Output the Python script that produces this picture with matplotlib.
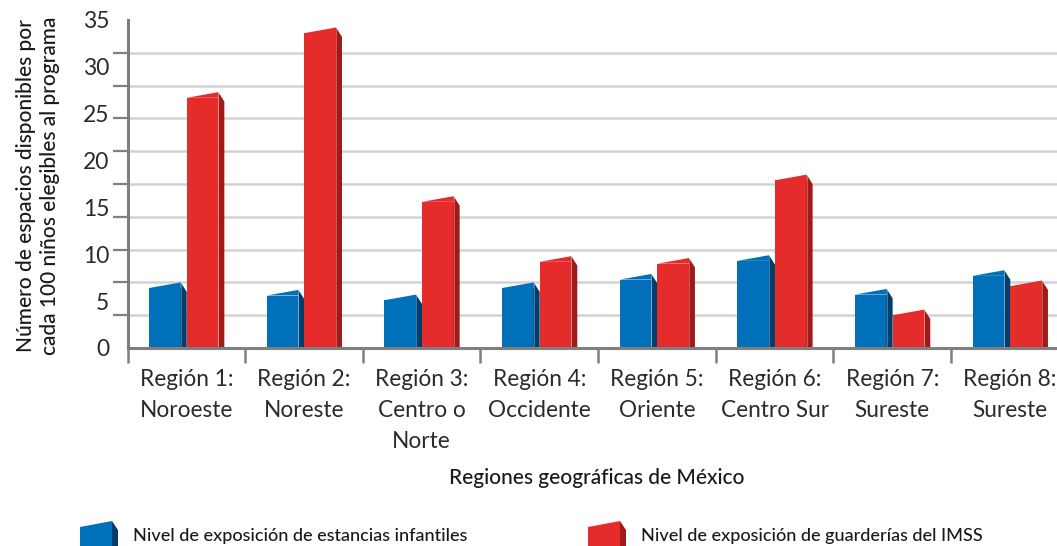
import matplotlib
matplotlib.use('Agg')
import matplotlib.pyplot as plt
import numpy as np

# data
regions = ['Región 1:\nNoroeste', 'Región 2:\nNoreste', 'Región 3:\nCentro o\nNorte',
           'Región 4:\nOccidente', 'Región 5:\nOriente', 'Región 6:\nCentro Sur',
           'Región 7:\nSureste', 'Región 8:\nSureste']
estancias = [6.7, 5.9, 5.4, 6.7, 7.6, 9.6, 6.0, 8.0]
guarderias = [27.0, 33.9, 15.9, 9.5, 9.3, 18.2, 3.8, 6.9]
ytick_vals = [0, 5, 10, 15, 20, 25, 30, 35]
series_names = ['Nivel de exposición de estancias infantiles',
                'Nivel de exposición de guarderías del IMSS']

BLUE = '#0070BA'
BLUE_SIDE = '#003E6B'
RED = '#E62B2B'
RED_SIDE = '#A01A1A'
GRID = '#D3D3D3'
AXIS = '#7F7F7F'
TXT = '#2B2B2B'

plt.rcParams['font.family'] = ['Lato', 'DejaVu Sans']

W, H = 1057, 546
fig = plt.figure(figsize=(W / 100, H / 100), dpi=100)
fig.patch.set_facecolor('white')

ax = fig.add_axes([127.5 / W, 1 - 348 / H, 1 - 127.5 / W, 328 / H])
ax.set_xlim(-0.5, 7.40)
ax.set_ylim(0, 35)

FW = 0.268    # front face width
SW = 0.051    # side face width
SL = 0.3      # half rise of the slanted top
SD = 1.0      # drop of the side top


def bar3d(xl, vals, front, side):
    vals = np.asarray(vals)
    ax.bar(xl, vals - SL, width=FW, align='edge', color=front, linewidth=0, zorder=3)
    for x0, v in zip(xl, vals):
        x1 = x0 + FW
        ax.fill([x0, x1, x1], [v - SL, v + SL, v - SL], color=front, lw=0, zorder=3)
        ax.fill([x1, x1, x1 + SW, x1 + SW], [0, v + SL, v + SL - SD, 0],
                color=side, lw=0, zorder=3)
        ax.plot([x1, x1], [0, v + SL], color='white', lw=0.6, alpha=0.35, zorder=4)


x = np.arange(len(regions))
bar3d(x - 0.316, estancias, BLUE, BLUE_SIDE)
bar3d(x + 0.004, guarderias, RED, RED_SIDE)

# y axis: labels at 0..35, grid + ticks every 3.5
ax.set_yticks(ytick_vals)
ax.set_yticklabels([str(v) for v in ytick_vals])
ax.set_yticks(np.linspace(0, 35, 11), minor=True)
ax.tick_params(axis='y', which='major', length=0, pad=13, labelsize=16.5, labelcolor=TXT)
ax.tick_params(axis='y', which='minor', length=11, width=1.6, color=AXIS)
ax.grid(axis='y', which='minor', color=GRID, lw=1.8, zorder=0)
ax.set_axisbelow(True)

# x axis
ax.set_xticks(x)
ax.set_xticklabels(regions)
ax.set_xticks(np.arange(-0.5, 7.5, 1.0), minor=True)
ax.tick_params(axis='x', which='major', length=0, pad=15, labelsize=16.3, labelcolor=TXT)
ax.tick_params(axis='x', which='minor', length=11, width=1.8, color=AXIS)
for lbl in ax.get_xticklabels():
    lbl.set_linespacing(1.58)

for s in ['top', 'right']:
    ax.spines[s].set_visible(False)
for s in ['left', 'bottom']:
    ax.spines[s].set_color(AXIS)
    ax.spines[s].set_linewidth(2.2)
    ax.spines[s].set_zorder(5)

fig.text(38 / W, 1 - 186 / H,
         'Número de espacios disponibles por\ncada 100 niños elegibles al programa',
         rotation=90, ha='center', va='center', fontsize=15, fontweight='medium',
         color='#1A1A1A', linespacing=1.2)
fig.text(597 / W, 1 - 478 / H, 'Regiones geográficas de México',
         ha='center', va='center', fontsize=15, fontweight='medium', color='#1A1A1A')

# legend drawn in pixel space
lax = fig.add_axes([0, 0, 1, 1])
lax.set_xlim(0, W)
lax.set_ylim(H, 0)
lax.axis('off')
for xi, (front, side), name in zip([80, 588], [(BLUE, BLUE_SIDE), (RED, RED_SIDE)], series_names):
    lax.fill([xi, xi, xi + 32, xi + 32], [H, 527, 521, H], color=front, lw=0)
    lax.fill([xi + 32, xi + 32, xi + 38, xi + 38], [H, 521, 530, H], color=side, lw=0)
    lax.text(xi + 53, 536, name, ha='left', va='center', fontsize=13,
             fontweight='medium', color='#1A1A1A')

fig.savefig('out.png', dpi=100, facecolor='white')
plt.close(fig)
